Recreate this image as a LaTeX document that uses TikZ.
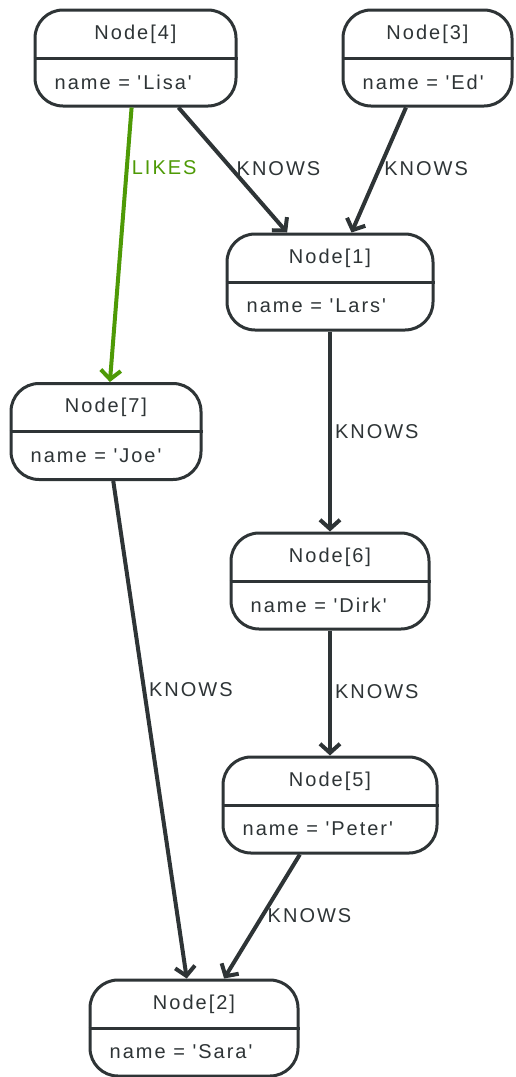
\documentclass[tikz,border=0pt]{standalone}
\usepackage{fontspec}
\setmainfont{Liberation Sans}[LetterSpace=10,Ligatures=TeXOff]
\usepackage{tikz}
\usetikzlibrary{positioning,calc,arrows.meta}
\definecolor{ink}{HTML}{2E3436}
\definecolor{likes}{HTML}{4E9A06}
\tikzset{
  record/.style  = {draw=ink,line width=3pt,rounded corners=28pt,
                    minimum height=96pt,inner sep=0pt,fill=white},
  divider/.style = {draw=ink,line width=3pt},
  header/.style  = {inner sep=0pt,text=ink},
  attr/.style    = {inner sep=0pt,text=ink,anchor=west},
  rel/.style     = {->,draw=ink,line width=4pt},
  rellabel/.style= {right,inner sep=3pt,text=ink},
  >={Straight Barb[length=9pt,width=20pt]}
}
\newcommand{\DrawRecord}[5]{%
  % draws the rounded box of the record
  \node[record,minimum width=#3] (#1) at #2 {};
  % draws the line between header and attributes
  \draw[divider] (#1.west) -- (#1.east);
  % displays the header (upper half)
  \node[header] at ($(#1.center)+(0,-24)$) {#4};
  % displays the attribute (lower half, left aligned)
  \node[attr] at ($(#1.west)+(21,24)$) {#5};
}
\begin{document}
\begin{tikzpicture}[x=1pt,y=-1pt,font=\fontsize{20}{24}\selectfont]
    \useasboundingbox (0,0) rectangle (516,1077);

    \DrawRecord{n4}{(135.5,58)}{201pt}{Node[4]}{name = 'Lisa'}
    \DrawRecord{n3}{(427.5,58)}{169pt}{Node[3]}{name = 'Ed'}
    \DrawRecord{n1}{(330,282)}{206pt}{Node[1]}{name = 'Lars'}
    \DrawRecord{n7}{(106,431.5)}{190pt}{Node[7]}{name = 'Joe'}
    \DrawRecord{n6}{(330,581)}{198pt}{Node[6]}{name = 'Dirk'}
    \DrawRecord{n5}{(330,805)}{214pt}{Node[5]}{name = 'Peter'}
    \DrawRecord{n2}{(194,1028)}{208pt}{Node[2]}{name = 'Sara'}

    % relationships
    \draw[rel] (n4) -- node[rellabel,pos=0.49] {KNOWS} (n1);
    \draw[rel] (n3) -- node[rellabel,pos=0.49] {KNOWS} (n1);
    \draw[rel,draw=likes] (n4) -- node[rellabel,pos=0.22,text=likes] {LIKES} (n7);
    \draw[rel] (n1) -- node[rellabel,pos=0.5] {KNOWS} (n6);
    \draw[rel] (n7) -- node[rellabel,pos=0.42] {KNOWS} (n2);
    \draw[rel] (n6) -- node[rellabel,pos=0.49] {KNOWS} (n5);
    \draw[rel] (n5) -- node[rellabel,pos=0.49] {KNOWS} (n2);
  \end{tikzpicture}
\end{document}
